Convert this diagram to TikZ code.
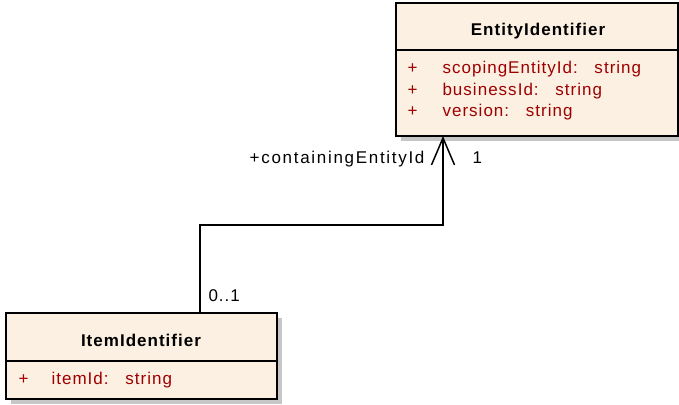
\documentclass[tikz,border=0pt]{standalone}
\usepackage{fontspec}
\setmainfont{Liberation Sans}[LetterSpace=6]
\newfontfamily\rolefont{Liberation Sans}[LetterSpace=10]
\usetikzlibrary{arrows.meta}
\definecolor{boxfill}{RGB}{251,240,226}
\definecolor{attrred}{RGB}{158,0,0}
\definecolor{shadowgray}{RGB}{198,198,198}

\begin{document}
\begin{tikzpicture}[x=1pt,y=-1pt,
  classbox/.style={draw=black,line width=1.6pt,fill=boxfill,anchor=north west,inner sep=0pt,outer sep=0pt},
  shadowbox/.style={fill=shadowgray,anchor=north west,inner sep=0pt,outer sep=0pt},
  classname/.style={font=\fontsize{17}{19}\selectfont\bfseries,anchor=base},
  attr/.style={font=\fontsize{17}{19}\selectfont,text=attrred,anchor=base west},
  rolelabel/.style={font=\fontsize{17}{19}\selectfont},
  assoc/.style={line width=1.5pt,-{Straight Barb[length=27pt,width=23pt,line width=1.5pt]}}]
  \useasboundingbox (0,0) rectangle (679,404);

  % shadows first
  \node[shadowbox,minimum width=282,minimum height=133] (entityshadow) at (401,8) {};
  \node[shadowbox,minimum width=271,minimum height=86] (itemshadow) at (11,318) {};

  % the two classes
  \node[classbox,minimum width=282,minimum height=133] (entity) at (396,3) {};
  \node[classbox,minimum width=271,minimum height=86] (item) at (6,313) {};
  \draw[line width=1.6pt] (entity.west |- 0,50) -- (entity.east |- 0,50);
  \draw[line width=1.6pt] (item.west |- 0,361) -- (item.east |- 0,361);

  \node[classname] (entityname) at (538,36) {EntityIdentifier};
  \node[classname] (itemname) at (141,346.5) {ItemIdentifier};

  % attributes
  \node[attr] (plus1) at (404,74) {+};
  \node[attr] (scoping) at (439,74) {scopingEntityId:\hspace{9pt} string};
  \node[attr] (plus2) at (404,95) {+};
  \node[attr] (business) at (439,95) {businessId:\hspace{9pt} string};
  \node[attr] (plus3) at (404,116) {+};
  \node[attr] (version) at (439,116) {version:\hspace{9pt} string};
  \node[attr] (plus4) at (15,384) {+};
  \node[attr] (itemid) at (48,384) {itemId:\hspace{9pt} string};

  % association
  \coordinate (bend1) at (200,225);
  \coordinate (bend2) at (443,225);
  \draw[assoc] (item.north -| bend1) -- (bend1) -- (bend2) -- (entity.south -| bend2);
  \node[rolelabel,anchor=base east] (rolename) at (428,163.5) {\rolefont +containingEntityId};
  \node[rolelabel,anchor=base west] (multentity) at (469,163.5) {1};
  \node[rolelabel,anchor=base west] (multitem) at (205,301) {0..1};
\end{tikzpicture}
\end{document}
